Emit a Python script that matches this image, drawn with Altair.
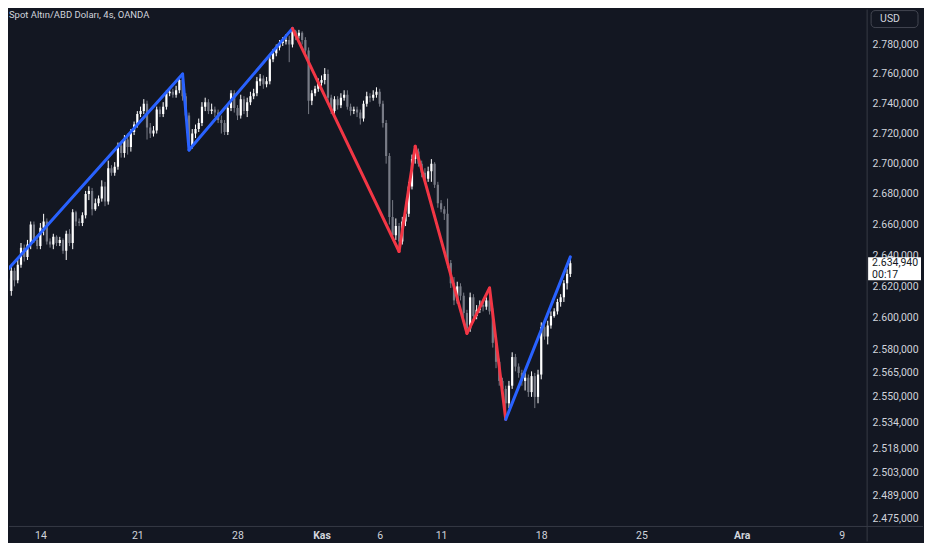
import altair as alt
import pandas as pd

BG = "#131722"
TEXT = "#d1d4dc"
LINE = "#363a45"
UP = "#ffffff"
DOWN = "#787b86"
BLUE = "#2962ff"
RED = "#f23645"
FONT = "Roboto"

# 4h candles, one row per bar (open of each bar = close of the previous one)
first_open = 2625
closes = [
    2617, 2630, 2624, 2634, 2645, 2639, 2647, 2660, 2650, 2646,
    2658, 2662, 2649, 2647, 2652, 2648, 2650, 2643, 2654, 2648,
    2668, 2662, 2661, 2666, 2680, 2682, 2670, 2674, 2677, 2685,
    2675, 2697, 2694, 2698, 2712, 2707, 2716, 2711, 2721, 2726,
    2733, 2735, 2740, 2724, 2720, 2722, 2736, 2733, 2738, 2747,
    2748, 2746, 2749, 2756, 2745, 2732, 2712, 2720, 2723, 2727,
    2738, 2741, 2735, 2736, 2734, 2729, 2727, 2721, 2737, 2747,
    2737, 2732, 2743, 2735, 2741, 2745, 2747, 2755, 2757, 2753,
    2755, 2770, 2774, 2778, 2781, 2782, 2783, 2780, 2789, 2786,
    2788, 2783, 2776, 2742, 2747, 2750, 2754, 2756, 2760, 2744,
    2735, 2743, 2739, 2744, 2746, 2738, 2735, 2736, 2734, 2730,
    2740, 2745, 2744, 2746, 2748, 2740, 2727, 2705, 2665, 2653,
    2659, 2649, 2662, 2667, 2685, 2703, 2708, 2700, 2694, 2690,
    2695, 2700, 2686, 2674, 2670, 2667, 2635, 2622, 2611, 2620,
    2614, 2603, 2593, 2613, 2601, 2605, 2608, 2607, 2611, 2604,
    2584, 2572, 2560, 2555, 2546, 2557, 2575, 2569, 2565, 2560,
    2562, 2553, 2563, 2550, 2564, 2594, 2588, 2595, 2601, 2604,
    2610, 2613, 2622, 2628, 2634.94,
]
highs = [
    2628, 2633, 2632, 2637, 2648, 2647, 2650, 2662, 2662, 2652,
    2661, 2667, 2664, 2651, 2654, 2653, 2652, 2651, 2656, 2657,
    2670, 2669, 2664, 2668, 2682, 2685, 2684, 2677, 2679, 2689,
    2688, 2702, 2699, 2701, 2714, 2713, 2719, 2720, 2723, 2728,
    2735, 2738, 2743, 2742, 2727, 2725, 2738, 2738, 2741, 2749,
    2751, 2750, 2752, 2758, 2760, 2747, 2734, 2723, 2726, 2730,
    2741, 2744, 2743, 2740, 2738, 2736, 2732, 2729, 2740, 2749,
    2749, 2739, 2746, 2745, 2744, 2748, 2750, 2758, 2760, 2759,
    2758, 2773, 2777, 2780, 2783, 2785, 2787, 2786, 2791, 2790,
    2790, 2789, 2785, 2778, 2749, 2752, 2757, 2759, 2764, 2763,
    2746, 2745, 2745, 2747, 2749, 2749, 2740, 2738, 2738, 2736,
    2742, 2748, 2747, 2749, 2751, 2750, 2742, 2729, 2707, 2676,
    2664, 2661, 2665, 2670, 2688, 2706, 2711.5, 2710, 2702, 2697,
    2698, 2703, 2701, 2688, 2676, 2672, 2677, 2637, 2626, 2623,
    2622, 2616, 2605, 2616, 2615, 2608, 2611, 2610, 2613, 2619,
    2606, 2586, 2574, 2562, 2557, 2560, 2578, 2577, 2571, 2567,
    2565, 2564, 2566, 2565, 2567, 2597, 2596, 2598, 2604, 2606,
    2612, 2615, 2624, 2631, 2639,
]
lows = [
    2605, 2614, 2620, 2622, 2632, 2636, 2637, 2644, 2648, 2644,
    2644, 2653, 2647, 2645, 2644, 2646, 2646, 2641, 2637, 2646,
    2644, 2659, 2659, 2659, 2664, 2676, 2666, 2669, 2672, 2675,
    2672, 2673, 2692, 2692, 2696, 2704, 2704, 2706, 2708, 2719,
    2724, 2731, 2733, 2716, 2717, 2718, 2720, 2731, 2731, 2736,
    2745, 2744, 2744, 2747, 2742, 2729, 2709, 2710, 2717, 2721,
    2725, 2735, 2733, 2733, 2731, 2727, 2720, 2719, 2719, 2735,
    2734, 2729, 2730, 2733, 2731, 2739, 2743, 2745, 2752, 2750,
    2751, 2753, 2768, 2772, 2776, 2779, 2780, 2768, 2778, 2783,
    2784, 2780, 2773, 2733, 2739, 2745, 2748, 2752, 2753, 2741,
    2733, 2732, 2736, 2737, 2742, 2736, 2732, 2733, 2731, 2726,
    2728, 2738, 2741, 2742, 2744, 2738, 2724, 2700, 2660, 2650,
    2650, 2642.5, 2647, 2659, 2665, 2683, 2700, 2698, 2691, 2687,
    2688, 2688, 2684, 2671, 2668, 2663, 2632, 2619, 2608, 2609,
    2611, 2600, 2590, 2591, 2598, 2599, 2603, 2604, 2605, 2602,
    2581, 2568, 2557, 2552, 2536, 2543, 2555, 2566, 2562, 2557,
    2554, 2550, 2550, 2543, 2546, 2561, 2586, 2583, 2593, 2600,
    2602, 2607, 2610, 2618, 2626,
]

# zigzag pivots (bar index, price) and the colour of each leg between them
pivot_bars = [0, 54, 56, 88, 121, 126, 142, 149, 154, 174]
pivot_prices = [2631, 2760, 2709, 2791, 2642.5, 2711.5, 2590, 2619, 2536, 2639]
segment_trend = ["up", "up", "up", "down", "down", "down", "down", "down", "up"]

# time axis: bar where each labelled day starts
day_bars = [10, 40, 71, 97, 115, 134, 165, 196, 227, 258]
day_labels = ["14", "21", "28", "Kas", "6", "11", "18", "25", "Ara", "9"]
month_labels = ["Kas", "Ara"]

price_ticks = [2780, 2760, 2740, 2720, 2700, 2680, 2660, 2640, 2620, 2600,
               2580, 2565, 2550, 2534, 2518, 2503, 2489, 2475]

title_text = "Spot Altın/ABD Doları, 4s, OANDA"
countdown = "00:17"

opens = [first_open] + closes[:-1]
candles = pd.DataFrame({"bar": range(len(closes)), "open": opens,
                        "high": highs, "low": lows, "close": closes})

rows = []
for i, trend in enumerate(segment_trend):
    for j in (i, i + 1):
        rows.append({"seg": i, "trend": trend, "bar": pivot_bars[j], "price": pivot_prices[j]})
zigzag = pd.DataFrame(rows)


def tr_number(v):
    return f"{v:,.3f}".replace(",", "X").replace(".", ",").replace("X", ".")


last = pd.DataFrame({"price": [closes[-1]], "txt": [tr_number(closes[-1])], "timer": [countdown]})
one = pd.DataFrame({"k": [0]})

W, H = 860, 518

x_scale = alt.Scale(domain=[1.83, 264.3], nice=False, zero=False)
y_scale = alt.Scale(type="log", domain=[2470.3, 2803.9], nice=False, zero=False)

label_expr = ("[" + ",".join(f"'{t}'" for t in day_labels) + "][indexof(["
              + ",".join(str(b) for b in day_bars) + "], datum.value)]")
bold_test = " || ".join(f"datum.value == {b}" for b, t in zip(day_bars, day_labels) if t in month_labels)

x_axis = alt.Axis(values=day_bars, labelExpr=label_expr, title=None, grid=False, domain=False,
                  ticks=False, labelPadding=4, labelColor=TEXT, labelFont=FONT, labelFontSize=10.5,
                  labelOverlap=False, labelFlush=False,
                  labelFontWeight={"condition": {"test": bold_test, "value": "bold"}, "value": "normal"})
y_axis = alt.Axis(orient="right", values=price_ticks,
                  labelExpr="replace(replace(replace(format(datum.value, ',.3f'), ',', 'X'), '.', ','), 'X', '.')",
                  title=None, grid=False, domain=False, ticks=False, labelPadding=5,
                  labelColor=TEXT, labelFont=FONT, labelFontSize=10.5, labelOverlap=False, labelFlush=False)

base = alt.Chart(candles).encode(x=alt.X("bar:Q", scale=x_scale, axis=x_axis))
candle_color = alt.condition("datum.open <= datum.close", alt.value(UP), alt.value(DOWN))

wicks = base.mark_rule(strokeWidth=1, clip=True).encode(
    y=alt.Y("low:Q", scale=y_scale, axis=y_axis), y2="high:Q", color=candle_color)
bodies = base.mark_bar(size=2.2, clip=True).encode(y="open:Q", y2="close:Q", color=candle_color)

zig = alt.Chart(zigzag).mark_line(strokeWidth=3, clip=True, strokeCap="round").encode(
    x="bar:Q", y="price:Q", detail="seg:N", order="bar:Q",
    color=alt.Color("trend:N", scale=alt.Scale(domain=["up", "down"], range=[BLUE, RED]), legend=None))

# panel separators
vsep = alt.Chart(one).mark_rule(color=LINE, strokeWidth=1).encode(
    x=alt.value(W), y=alt.value(0), y2=alt.value(533))
hsep = alt.Chart(one).mark_rule(color=LINE, strokeWidth=1).encode(
    x=alt.value(0), x2=alt.value(916), y=alt.value(H))

title = alt.Chart(one).mark_text(align="left", baseline="middle", font=FONT, fontSize=9.5,
                                 color=TEXT).encode(x=alt.value(0), y=alt.value(5), text=alt.value(title_text))

usd_box = alt.Chart(one).mark_rect(filled=False, stroke="#434651", strokeWidth=1, cornerRadius=4).encode(
    x=alt.value(864), x2=alt.value(911), y=alt.value(1), y2=alt.value(18))
usd_txt = alt.Chart(one).mark_text(align="left", baseline="middle", font=FONT, fontSize=10.5,
                                   color=TEXT).encode(x=alt.value(873), y=alt.value(9.5), text=alt.value("USD"))

price_box = alt.Chart(last).mark_rect(color="#ffffff", yOffset=-6, y2Offset=17).encode(
    x=alt.value(861), x2=alt.value(914), y="price:Q", y2="price:Q")
price_txt = alt.Chart(last).mark_text(align="left", baseline="middle", font=FONT, fontSize=10.5,
                                      color=BG).encode(x=alt.value(865), y="price:Q", text="txt:N")
timer_txt = alt.Chart(last).mark_text(align="left", baseline="middle", font=FONT, fontSize=10.5, dy=12,
                                      color=BG).encode(x=alt.value(865), y="price:Q", text="timer:N")

chart = alt.layer(wicks, bodies, zig, vsep, hsep, title, usd_box, usd_txt,
                  price_box, price_txt, timer_txt).properties(
    width=W, height=H, background=BG, padding=0
).configure_view(stroke=None)

chart.save("out.html", embed_options={"renderer": "svg", "actions": False})
